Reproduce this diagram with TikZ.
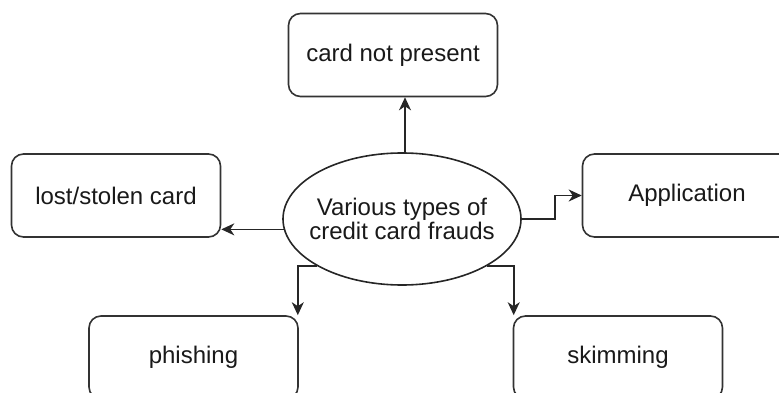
\documentclass[tikz,border=0pt]{standalone}
\usepackage{fontspec}
\setmainfont{Liberation Sans}
\usetikzlibrary{arrows.meta,shapes.geometric,calc}

\tikzset{
  lbl/.style={font=\fontsize{24}{24}\selectfont, text=black!90},
  fraudbox/.style={lbl, draw=black!80, line width=1.6pt, rounded corners=12pt,
    minimum width=209pt, minimum height=83pt, inner sep=0pt},
  hub/.style={draw=black!85, line width=1.6pt, ellipse,
    minimum width=238pt, minimum height=132pt, inner sep=0pt},
  link/.style={draw=black!85, line width=1.6pt,
    -{Stealth[length=13pt,width=12pt,inset=4pt]}}
}

\begin{document}
\begin{tikzpicture}[x=1pt,y=-1pt]
  \useasboundingbox (0,0) rectangle (779,393);

  % central ellipse and its caption
  \node[hub] (hub) at (402,219) {};
  \node[lbl, align=center] (hubtext) at (hub.center) {Various types of\\credit card frauds};

  % the five kinds of fraud
  \node[fraudbox] (cnp)   at (393,55)    {card not present};
  \node[fraudbox] (lost)  at (116,195.5) {lost/stolen card};
  \node[fraudbox] (app)   at (687,195.5) {Application};
  \node[fraudbox] (phish) at (193.5,357.5) {phishing};
  \node[fraudbox] (skim)  at (618,357.5) {skimming};

  % connectors from the hub
  \coordinate (topout) at ($(hub.north)+(3,0)$);
  \draw[link] (topout) -- (topout |- cnp.south);
  \draw[link] (hub.185) -- (hub.185 -| lost.east);
  \draw[link] (hub.east) -- ++(33,0) |- (app.west);
  \coordinate (phtop) at ($(phish.north east)+(-1,0)$);
  \coordinate (sktop) at ($(skim.north west)+(1,0)$);
  \draw[link] (hub.209) -| (phtop);
  \draw[link] (hub.331) -| (sktop);
\end{tikzpicture}
\end{document}
